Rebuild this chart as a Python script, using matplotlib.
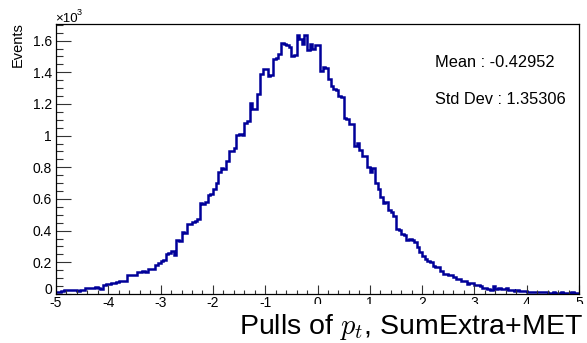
# coding=utf-8
# Pull distribution of p_t (SumExtra+MET), ROOT-like histogram
import matplotlib as mpl
mpl.use('Agg')
mpl.rcParams['mathtext.fontset'] = 'cm'
mpl.rcParams['font.family'] = ['Liberation Sans', 'DejaVu Sans']
mpl.rcParams['axes.unicode_minus'] = False
import matplotlib.pyplot as plt
from matplotlib.ticker import MultipleLocator, AutoMinorLocator, FuncFormatter
from matplotlib.patches import Rectangle
import numpy as np

# Binning: 200 bins between -5 and 5
x_min, x_max, n_bins = -5.0, 5.0, 200

# Bin contents (events), one unit of x per row
counts_m5 = [10, 14, 22, 24, 23, 25, 23, 24, 22, 25, 24, 40, 38, 41, 40, 42, 35, 34, 55, 62]
counts_m4 = [62, 72, 72, 74, 83, 83, 85, 119, 117, 120, 121, 142, 140, 145, 142, 157, 155, 160, 180, 195]
counts_m3 = [210, 215, 253, 258, 274, 248, 338, 335, 391, 388, 444, 440, 455, 462, 476, 572, 568, 580, 625, 630]
counts_m2 = [660, 699, 773, 795, 790, 837, 901, 905, 922, 1007, 1010, 1005, 1081, 1092, 1205, 1166, 1170, 1262, 1389, 1421]
counts_m1 = [1421, 1379, 1385, 1485, 1490, 1517, 1587, 1581, 1570, 1560, 1506, 1510, 1638, 1613, 1581, 1634, 1538, 1581, 1545, 1570]
counts_p0 = [1570, 1411, 1432, 1430, 1358, 1315, 1294, 1290, 1251, 1245, 1113, 1103, 1071, 1075, 933, 954, 911, 869, 869, 805]
counts_p1 = [773, 795, 699, 661, 614, 576, 580, 529, 518, 491, 412, 402, 380, 375, 344, 346, 340, 327, 295, 263]
counts_p2 = [242, 221, 206, 204, 178, 168, 170, 147, 125, 128, 119, 117, 108, 93, 95, 79, 80, 66, 72, 70]
counts_p3 = [55, 56, 52, 40, 41, 30, 28, 51, 34, 35, 33, 34, 36, 23, 24, 22, 23, 19, 20, 18]
counts_p4 = [13, 14, 12, 13, 15, 12, 13, 11, 8, 9, 10, 7, 8, 12, 9, 8, 7, 10, 8, 9]

stat_mean = -0.42952
stat_std = 1.35306

counts = np.array(counts_m5 + counts_m4 + counts_m3 + counts_m2 + counts_m1 +
                  counts_p0 + counts_p1 + counts_p2 + counts_p3 + counts_p4, dtype=float)
edges = np.linspace(x_min, x_max, n_bins + 1)

W, H = 587, 343
fig = plt.figure(figsize=(W / 100, H / 100), dpi=100)
ax = fig.add_axes([56 / W, 1 - 294 / H, (579 - 56) / W, (294 - 24) / H])

ax.stairs(counts / 1000., edges, baseline=None, color='#000099', lw=1.8)

ax.set_xlim(x_min, x_max)
ax.set_ylim(0, 1.705)

ax.xaxis.set_major_locator(MultipleLocator(1))
ax.xaxis.set_minor_locator(AutoMinorLocator(5))
ax.yaxis.set_major_locator(MultipleLocator(0.2))
ax.yaxis.set_minor_locator(AutoMinorLocator(4))
ax.yaxis.set_major_formatter(FuncFormatter(lambda v, p: '%g' % round(v, 3)))
ax.xaxis.set_major_formatter(FuncFormatter(lambda v, p: '%g' % round(v, 3)))

ax.tick_params(axis='both', which='both', direction='in', top=False, right=False,
               labelsize=10, width=0.8, color='#333333')
ax.tick_params(axis='y', which='major', length=10.8, pad=3)
ax.tick_params(axis='y', which='minor', length=5)
ax.tick_params(axis='x', which='major', length=6.5, pad=1.2)
ax.tick_params(axis='x', which='minor', length=3.2)
for sp in ax.spines.values():
    sp.set_linewidth(0.9)

# the "0" of the y axis sits on the axis line, above the "-5"
fig.canvas.draw()
for t in ax.yaxis.get_major_ticks():
    if abs(t.get_loc()) < 1e-9:
        t.label1.set_va('baseline')

# Axis titles and multiplier, ROOT style
fig.text(17.5 / W, 1 - 22 / H, 'Events', rotation=90, ha='center', va='top', fontsize=10.5)
fig.text(55 / W, 1 - 22 / H, u'\u00d710', ha='left', va='baseline', fontsize=9.5)
fig.text(77 / W, 1 - 15 / H, '3', ha='left', va='baseline', fontsize=6.5)

# Stats
ax.text(435 / W, 1 - 67 / H, 'Mean : %.5f' % stat_mean, transform=fig.transFigure,
        ha='left', va='baseline', fontsize=11.8)
ax.text(435 / W, 1 - 104 / H, 'Std Dev : %.5f' % stat_std, transform=fig.transFigure,
        ha='left', va='baseline', fontsize=11.8)

# white pave behind the x title (hides the lower part of the tick labels)
fig.patches.append(Rectangle((285 / W, 0), 1 - 285 / W, (H - 304) / H,
                             transform=fig.transFigure, facecolor='white',
                             edgecolor='none', zorder=1))
fig.text(583 / W, 1 - 334 / H, r'Pulls of $p_t$, SumExtra+MET', ha='right', va='baseline',
         fontsize=20.5, zorder=3)

plt.savefig('out.png', dpi=100)
